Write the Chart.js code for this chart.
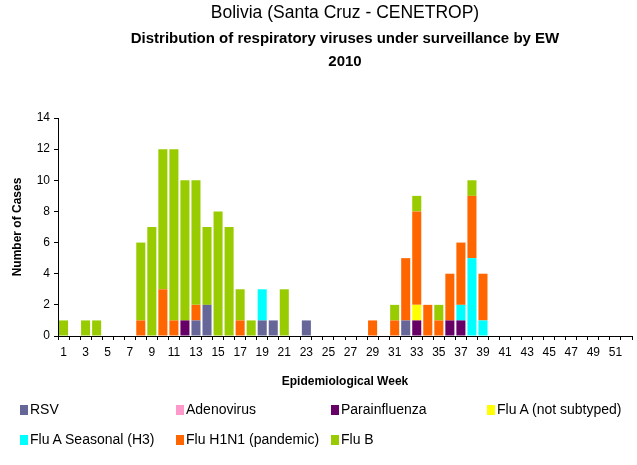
<!DOCTYPE html>
<html>
<head>
<meta charset="utf-8">
<script src="https://cdn.jsdelivr.net/npm/chart.js@4.4.0/dist/chart.umd.min.js"></script>
<style>
  html, body { margin: 0; padding: 0; background: #fff; }
  #wrap { position: relative; width: 637px; height: 465px; overflow: hidden; font-family: "Liberation Sans", Arial, sans-serif; }
  #c { position: absolute; left: 0; top: 0; }
  .t { position: absolute; left: 57px; width: 576px; text-align: center; color: #000; white-space: nowrap; }
  .leg { position: absolute; font-size: 14px; color: #000; white-space: nowrap; line-height: 15px; }
  .leg span.box { display: inline-block; width: 8px; height: 10px; margin-right: 2px; vertical-align: -1px; }
</style>
</head>
<body>
<div id="wrap">
  <canvas id="c" width="637" height="465"></canvas>
  <div class="t" id="t1" style="top:2px; font-size:17.5px;">Bolivia (Santa Cruz - CENETROP)</div>
  <div class="t" id="t2" style="top:29px; font-size:15px; font-weight:bold;">Distribution of respiratory viruses under surveillance by EW</div>
  <div class="t" id="t3" style="top:52px; font-size:15px; font-weight:bold;">2010</div>
  <div id="legend"></div>
</div>
<script>
// ---- Data ----
const weeks = Array.from({length: 52}, (_, i) => String(i + 1));
const seriesNames = ["RSV", "Adenovirus", "Parainfluenza", "Flu A (not subtyped)", "Flu A Seasonal (H3)", "Flu H1N1 (pandemic)", "Flu B"];
const seriesColors = ["#666699", "#FF99CC", "#660066", "#FFFF00", "#00FFFF", "#FF6600", "#99CC00"];

//            1 2 3 4 5 6 7 8 9 10 11 12 13 14 15 16 17 18 19 20 21 22 23 24 25 26 27 28 29 30 31 32 33 34 35 36 37 38 39 40 41 42 43 44 45 46 47 48 49 50 51 52
const rsv   = [0,0,0,0,0,0,0,0,0,0, 0, 0, 1, 2, 0, 0, 0, 0, 1, 1, 0, 0, 1, 0, 0, 0, 0, 0, 0, 0, 0, 1, 0, 0, 0, 0, 0, 0, 0, 0, 0, 0, 0, 0, 0, 0, 0, 0, 0, 0, 0, 0];
const adeno = [0,0,0,0,0,0,0,0,0,0, 0, 0, 0, 0, 0, 0, 0, 0, 0, 0, 0, 0, 0, 0, 0, 0, 0, 0, 0, 0, 0, 0, 0, 0, 0, 0, 0, 0, 0, 0, 0, 0, 0, 0, 0, 0, 0, 0, 0, 0, 0, 0];
const para  = [0,0,0,0,0,0,0,0,0,0, 0, 1, 0, 0, 0, 0, 0, 0, 0, 0, 0, 0, 0, 0, 0, 0, 0, 0, 0, 0, 0, 0, 1, 0, 0, 1, 1, 0, 0, 0, 0, 0, 0, 0, 0, 0, 0, 0, 0, 0, 0, 0];
const fluA  = [0,0,0,0,0,0,0,0,0,0, 0, 0, 0, 0, 0, 0, 0, 0, 0, 0, 0, 0, 0, 0, 0, 0, 0, 0, 0, 0, 0, 0, 1, 0, 0, 0, 0, 0, 0, 0, 0, 0, 0, 0, 0, 0, 0, 0, 0, 0, 0, 0];
const h3    = [0,0,0,0,0,0,0,0,0,0, 0, 0, 0, 0, 0, 0, 0, 0, 2, 0, 0, 0, 0, 0, 0, 0, 0, 0, 0, 0, 0, 0, 0, 0, 0, 0, 1, 5, 1, 0, 0, 0, 0, 0, 0, 0, 0, 0, 0, 0, 0, 0];
const h1n1  = [0,0,0,0,0,0,0,1,0,3, 1, 0, 1, 0, 0, 0, 1, 0, 0, 0, 0, 0, 0, 0, 0, 0, 0, 0, 1, 0, 1, 4, 6, 2, 1, 3, 4, 4, 3, 0, 0, 0, 0, 0, 0, 0, 0, 0, 0, 0, 0, 0];
const fluB  = [1,0,1,1,0,0,0,5,7,9,11, 9, 8, 5, 8, 7, 2, 1, 0, 0, 3, 0, 0, 0, 0, 0, 0, 0, 0, 0, 1, 0, 1, 0, 1, 0, 0, 1, 0, 0, 0, 0, 0, 0, 0, 0, 0, 0, 0, 0, 0, 0];
const seriesValues = [rsv, adeno, para, fluA, h3, h1n1, fluB];

const yMin = 0, yMax = 14, yStep = 2;

// ---- Legend (HTML, built from the series arrays) ----
const legPos = [[20,402],[176,402],[331,402],[487,402],[20,432],[176,432],[331,432]];
const legEl = document.getElementById('legend');
seriesNames.forEach((n, i) => {
  const d = document.createElement('div');
  d.className = 'leg';
  d.style.left = legPos[i][0] + 'px';
  d.style.top = legPos[i][1] + 'px';
  d.innerHTML = '<span class="box" style="background:' + seriesColors[i] + '"></span>' + n;
  legEl.appendChild(d);
});

// ---- Chart ----
const FONT = "'Liberation Sans', Arial, sans-serif";
new Chart(document.getElementById('c'), {
  type: 'bar',
  data: {
    labels: weeks,
    datasets: seriesNames.map((n, i) => ({
      label: n,
      data: seriesValues[i],
      backgroundColor: seriesColors[i],
      borderWidth: 0,
      barPercentage: 0.82,
      categoryPercentage: 1.0
    }))
  },
  options: {
    responsive: false,
    animation: false,
    devicePixelRatio: 1,
    layout: { padding: { top: 118, right: 5, bottom: 74, left: 0 } },
    plugins: {
      legend: { display: false },
      title: { display: false },
      tooltip: { enabled: false }
    },
    scales: {
      x: {
        stacked: true,
        afterFit: s => { s.height = 55; },
        grid: { display: true, drawOnChartArea: false, tickLength: 4, color: '#000', offset: true },
        border: { color: '#000', width: 1 },
        ticks: {
          autoSkip: false, maxRotation: 0, minRotation: 0, padding: 5,
          color: '#000', font: { family: FONT, size: 12 },
          callback: function(v, i) { return i % 2 === 0 ? this.getLabelForValue(v) : ''; }
        },
        title: { display: true, text: 'Epidemiological Week', color: '#000', font: { family: FONT, size: 12, weight: 'bold' }, padding: { top: 0, bottom: 2 } }
      },
      y: {
        stacked: true,
        min: yMin, max: yMax,
        afterFit: s => { s.width = 58; },
        grid: { display: true, drawOnChartArea: false, tickLength: 4, color: '#000' },
        border: { color: '#000', width: 1 },
        ticks: { stepSize: yStep, padding: 4, color: '#000', font: { family: FONT, size: 12 } },
        title: { display: true, text: 'Number of Cases', color: '#000', font: { family: FONT, size: 12, weight: 'bold' }, padding: { top: 10, bottom: 0 } }
      }
    }
  }
});
</script>
</body>
</html>
